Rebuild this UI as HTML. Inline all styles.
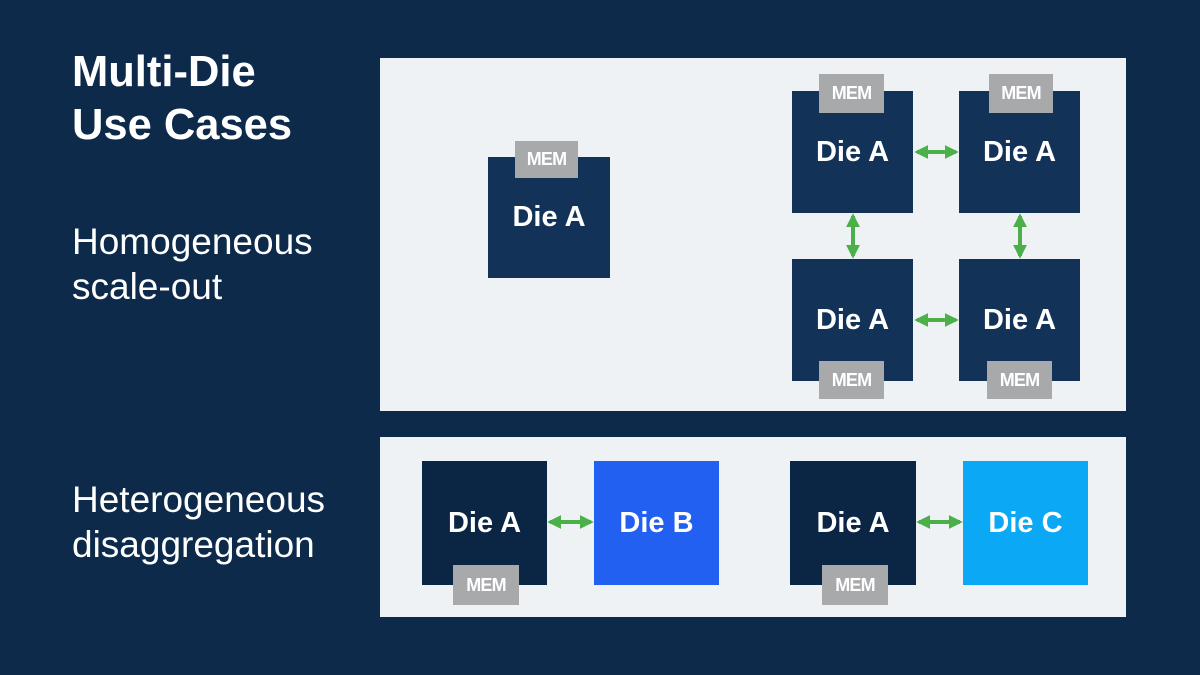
<!DOCTYPE html>
<html><head><style>
body{margin:0;width:1200px;height:675px;background:#0d2a4b;position:relative;overflow:hidden;font-family:"Liberation Sans",Arial,sans-serif;}
.a{position:absolute;}
.panel{background:#eff2f5;}
.die{background:#123258;color:#fff;font-weight:bold;font-size:29px;display:flex;justify-content:center;align-items:center;}
.mem{background:#a8a9ab;color:#fff;font-weight:bold;font-size:18px;display:flex;justify-content:center;align-items:center;letter-spacing:-0.8px;}
.t{color:#fff;}
</style></head><body>
<div class="a t" style="left:72px;top:46px;font-size:43.5px;font-weight:bold;line-height:53px;">Multi-Die<br>Use Cases</div>
<div class="a t" style="left:72px;top:219px;font-size:37px;line-height:45px;">Homogeneous<br>scale-out</div>
<div class="a t" style="left:72px;top:477px;font-size:37px;line-height:45px;">Heterogeneous<br>disaggregation</div>

<div class="a panel" style="left:380px;top:58px;width:746px;height:353px;"></div>
<div class="a panel" style="left:380px;top:437px;width:746px;height:180px;"></div>

<div class="a die" style="left:488px;top:157px;width:122px;height:121px;">Die A</div>
<div class="a mem" style="left:515px;top:141px;width:63px;height:37px;">MEM</div>

<div class="a die" style="left:792px;top:91px;width:121px;height:122px;">Die A</div>
<div class="a die" style="left:959px;top:91px;width:121px;height:122px;">Die A</div>
<div class="a die" style="left:792px;top:259px;width:121px;height:122px;">Die A</div>
<div class="a die" style="left:959px;top:259px;width:121px;height:122px;">Die A</div>
<div class="a mem" style="left:819px;top:74px;width:65px;height:39px;">MEM</div>
<div class="a mem" style="left:989px;top:74px;width:64px;height:39px;">MEM</div>
<div class="a mem" style="left:819px;top:361px;width:65px;height:38px;">MEM</div>
<div class="a mem" style="left:987px;top:361px;width:65px;height:38px;">MEM</div>

<div class="a die" style="left:422px;top:461px;width:125px;height:124px;background:#0b2545;">Die A</div>
<div class="a mem" style="left:453px;top:565px;width:66px;height:40px;">MEM</div>
<div class="a die" style="left:594px;top:461px;width:125px;height:124px;background:#2160f0;">Die B</div>
<div class="a die" style="left:790px;top:461px;width:126px;height:124px;background:#0b2545;">Die A</div>
<div class="a mem" style="left:822px;top:565px;width:66px;height:40px;">MEM</div>
<div class="a die" style="left:963px;top:461px;width:125px;height:124px;background:#0aa8f5;">Die C</div>

<svg class="a" style="left:0;top:0" width="1200" height="675">
<defs><marker id="h" viewBox="0 0 10 10" refX="8" refY="5" markerWidth="3.5" markerHeight="3.5" orient="auto-start-reverse"><path d="M0,0L10,5L0,10z" fill="#4bb04a"/></marker></defs>
<g stroke="#4bb04a" stroke-width="4" marker-start="url(#h)" marker-end="url(#h)">
<line x1="917" y1="152" x2="956" y2="152"/>
<line x1="917" y1="320" x2="956" y2="320"/>
<line x1="853" y1="216" x2="853" y2="256"/>
<line x1="1020" y1="216" x2="1020" y2="256"/>
<line x1="550" y1="522" x2="591" y2="522"/>
<line x1="919" y1="522" x2="960" y2="522"/>
</g></svg>
</body></html>
